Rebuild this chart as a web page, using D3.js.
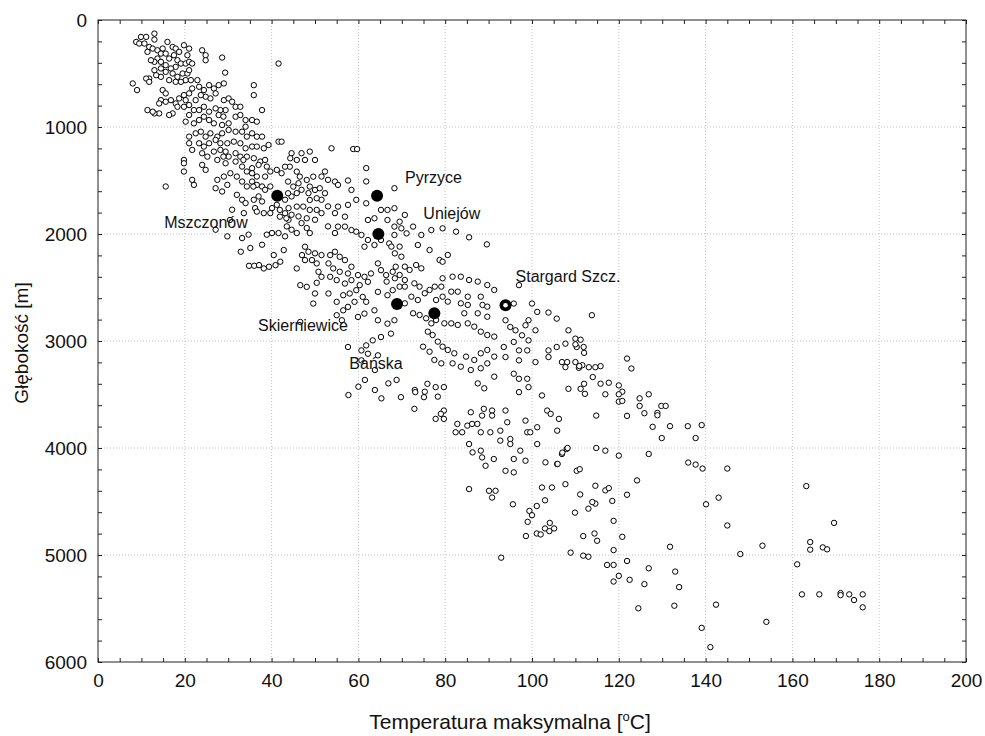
<!DOCTYPE html>
<html lang="pl">
<head>
<meta charset="UTF-8">
<title>Temperatura maksymalna a głębokość</title>
<script src="https://cdn.jsdelivr.net/npm/d3@7"></script>
<style>
  body { margin: 0; background: #fff; }
  svg text { font-family: "Liberation Sans", Arial, sans-serif; fill: #111; }
  .tick line { stroke: #222; }
</style>
</head>
<body>
<script>
// [temperatura °C, głębokość m], grouped by area
const ptsTop = [[8.8,205],[9.9,158],[11.1,158],[13.0,127],[13.0,183],[9.5,220],[10.7,220],[11.8,252],[11.4,298],[12.6,267],
  [13.7,283],[14.9,267],[16.0,205],[17.2,252],[17.9,267],[18.7,298],[19.8,236],[21.0,267],[20.6,329],[14.5,314],
  [13.7,360],[15.6,314],[16.4,360],[17.5,329],[18.3,376],[19.1,407],[20.2,407],[21.0,391],[21.7,407],[17.9,438],
  [16.8,453],[15.6,422],[14.5,391],[13.0,391],[12.2,376],[13.0,469],[14.5,453],[15.6,485],[17.2,500],[18.3,531],
  [19.5,500],[20.6,500],[21.0,469],[21.4,562],[20.2,562],[19.1,578],[17.9,578],[16.4,562],[14.5,531],[13.4,516],
  [11.8,547],[11.1,547],[8.0,593],[9.0,655],[11.8,578],[24.0,283],[24.8,329],[24.8,376],[28.6,351],[41.6,407],[29.3,492]];

const ptsUpper = [[14.9,655],[15.6,686],[14.5,749],[14.1,780],[15.6,764],[16.8,749],[17.9,780],[18.7,733],[19.8,702],[21.0,686],
  [20.2,749],[21.7,640],[22.9,562],[23.3,624],[24.4,655],[25.6,609],[26.7,640],[27.8,609],[29.0,593],[27.1,686],
  [25.9,733],[24.8,717],[23.7,702],[22.5,749],[21.0,795],[19.8,811],[18.3,811],[17.2,873],[16.4,888],[14.1,873],
  [13.0,873],[11.4,842],[12.6,857],[29.0,749],[30.1,733],[30.9,764],[31.7,811],[32.8,811],[35.9,609],[35.9,702],
  [37.8,842],[29.4,842],[28.2,842],[27.1,826],[27.8,888],[25.6,857],[24.4,811],[23.3,842],[22.1,842],[21.0,888],
  [20.2,950],[22.1,966],[23.3,935],[24.4,904],[25.6,935],[26.7,966],[28.6,981],[30.1,966],[31.7,904],[32.8,888],
  [34.0,935],[35.5,935],[36.6,950],[34.0,997],[33.2,1044],[34.3,1090],[35.5,1059],[36.6,1090],[37.8,1090],[31.7,1044],
  [30.1,1028],[28.6,1059],[27.5,1090],[25.9,1059],[24.8,1090],[23.7,1044],[22.5,1059],[21.0,1090],[23.3,1152],[24.4,1183],
  [25.6,1152],[27.1,1121],[28.2,1152],[29.8,1152],[31.3,1137],[32.8,1152],[34.0,1199],[35.5,1183],[36.6,1183],[38.2,1199],
  [39.3,1168],[21.0,1152],[21.7,1214],[24.0,1245],[25.2,1277],[26.7,1230],[28.2,1214],[29.4,1230],[30.1,1277],[31.7,1245],
  [32.8,1277],[34.3,1277],[35.9,1292],[37.4,1323],[38.5,1308],[19.8,1308],[19.8,1339],[19.8,1416],[24.0,1354],[24.8,1401],
  [27.5,1308],[29.4,1339],[31.7,1323],[33.2,1370],[34.3,1416],[35.5,1385],[37.0,1354],[38.9,1370],[39.7,1416],[41.2,1401],
  [42.3,1432],[41.6,1137],[42.3,1137],[44.6,1245],[46.9,1245],[48.8,1230],[44.3,1292],[45.8,1308],[47.7,1308],[50.0,1308],
  [52.3,1416],[53.8,1199],[51.5,1463],[53.0,1494],[54.6,1510],[28.9,903],[28.9,1277],[33.5,1308]];

const ptsMid = [[15.6,1556],[21.7,1494],[22.1,1541],[27.1,1572],[28.6,1603],[29.8,1541],[27.5,1494],[29.0,1463],[30.5,1432],[32.0,1463],
  [33.2,1510],[34.3,1556],[35.5,1510],[36.6,1541],[37.8,1556],[38.5,1587],[39.7,1556],[38.5,1463],[36.6,1463],[35.5,1432],
  [32.0,1634],[33.2,1680],[34.0,1711],[35.9,1680],[37.0,1649],[37.8,1696],[30.9,1773],[33.6,1805],[36.2,1758],[38.2,1805],
  [40.1,1758],[39.7,1805],[41.2,1727],[43.1,1680],[44.6,1649],[45.8,1618],[46.9,1587],[48.5,1618],[43.9,1758],[44.6,1820],
  [46.2,1836],[43.5,1929],[44.6,1960],[45.8,1991],[43.1,2022],[41.6,1991],[40.1,1991],[38.9,2006],[37.8,2100],[35.1,2131],
  [34.7,2006],[33.2,2038],[29.8,2022],[27.1,1960],[43.9,1867],[46.9,1898],[48.1,1944],[48.8,1991],[50.0,1867],[51.5,1680],
  [53.0,1742],[54.6,1805],[51.5,1805],[53.0,1929],[54.6,1991],[30.4,1869],[36.6,1791],[35.8,1557],
  [49.6,1464],[48.1,1495],[46.5,1464],[45.8,1417],[44.2,1371],[43.1,1371],[43.8,1510],[45.0,1557],[46.2,1526],[48.8,1557],
  [50.0,1588],[51.1,1572],[52.3,1619],[50.4,1666],[48.8,1682],[43.8,1619],[41.9,1775],[43.1,1806],[45.8,1744],[47.3,1744],
  [48.8,1775],[50.4,1775],[41.9,1838],[43.4,1853],[48.1,1853],
  [58.8,1206],[59.7,1206],[61.8,1384],[61.8,1509],[57.6,1500],[55.3,1541],[58.4,1588],[59.5,1681],[61.8,1713],[65.2,1775],
  [66.7,1775],[68.3,1759],[68.3,1572],[63.7,1853],[62.2,1869],[66.7,1869],[68.3,1931],[60.7,2009],[59.5,1978],[62.2,2056],
  [63.7,2103],[61.4,2119],[65.2,2056],[67.1,2088],[68.3,2009],[58.4,1963],[56.9,1931],[55.3,1931],[56.9,1838],[55.3,1744],
  [57.6,1728]];

const ptsBand = [[32.9,2166],[34.8,2297],[36.0,2297],[37.1,2291],[38.2,2322],[39.4,2306],[40.5,2197],[40.9,2291],[42.0,2259],[42.8,2150],
  [45.8,2322],[47.0,2197],[47.7,2119],[48.5,2166],[50.0,2181],[51.5,2197],[47.7,2244],[49.3,2244],[50.4,2275],[50.8,2353],
  [53.1,2275],[53.5,2197],[54.6,2166],[55.7,2213],[56.9,2244],[58.4,2306],[54.2,2322],[55.7,2353],[57.6,2369],[59.9,2384],
  [61.4,2400],[62.9,2369],[64.5,2275],[65.2,2338],[66.4,2384],[67.9,2353],[68.6,2306],[62.2,2447],[60.3,2478],[58.4,2431],
  [56.9,2463],[55.0,2431],[53.5,2400],[51.5,2400],[50.4,2456],[46.6,2478],[48.1,2494],[50.0,2556],[49.6,2650],[53.1,2556],
  [55.0,2634],[56.5,2572],[58.0,2556],[59.5,2525],[61.0,2588],[61.8,2634],[64.5,2541],[66.7,2572],[67.9,2525],[59.1,2634],
  [57.6,2681],[56.5,2713],[55.0,2759],[56.2,2806],[46.6,2822],[59.9,2775],[61.4,2744],[63.7,2713],[64.5,2806],[66.7,2838],
  [68.3,2806],[67.5,2931],[65.2,2963],[63.3,2994],[61.8,3041],[60.7,3088],[62.2,3119],[64.5,3134],[57.6,3056],[60.7,3181],
  [70.7,1822],[69.5,1885],[72.6,1931],[74.5,2009],[76.8,1963],[79.4,1947],[82.5,1978],[85.5,2031],[89.6,2097],[69.9,1947],
  [71.1,1994],[67.6,2118],[69.5,2118],[68.4,2181],[69.9,2212],[73.7,2103],[76.4,2150],[78.7,2243],[80.6,2196],[79.4,2259],
  [70.7,2305],[71.8,2336],[73.3,2290],[74.5,2321],[69.5,2383],[68.4,2414],[66.5,2445],[70.7,2430],[72.9,2461],[69.5,2492],
  [70.7,2492],[79.4,2414],[81.7,2399],[83.6,2399],[85.5,2430],[87.5,2445],[89.7,2477],[91.3,2523],[74.1,2492],[75.3,2554],
  [76.4,2523],[77.6,2492],[79.1,2492],[81.4,2539],[82.9,2539],[85.2,2586],[88.2,2586],[83.6,2648],[85.2,2663],[88.6,2663],
  [89.7,2679],[80.6,2632],[79.4,2586],[77.9,2617],[73.7,2617],[72.2,2586],[70.7,2648],[72.6,2741],[74.1,2757],[75.6,2788],
  [76.8,2835],[77.9,2804],[79.8,2835],[81.4,2835],[82.9,2850],[85.2,2835],[86.7,2866],[88.2,2913],[89.7,2944],[91.3,2959],
  [84.4,2741],[87.5,2741],[89.7,2773],[76.0,2913],[77.1,2944],[78.3,3006],[79.4,3053],[80.6,3084],[82.1,3115],[84.8,3146],
  [86.7,3177],[88.2,3115],[89.7,3084],[91.3,3146],[74.9,3053],[76.4,3100],[77.5,3177],[79.1,3209],[81.7,3209],[83.6,3240],
  [85.9,3271],[88.2,3255],[89.7,3209],[91.3,3333],[87.5,3396],[89.0,3442],[73.0,3458],[75.3,3474],[78.3,3520],
  [63.8,3271],[61.5,3364],[63.8,3458],[66.9,3396],[68.8,3364],[65.3,3536],[60.0,3427],[57.7,3505]];

const ptsDeep = [[95.8,2650],[97.0,2478],[100.0,2650],[99.2,2806],[101.2,2728],[103.8,2734],[105.7,2791],[108.4,2900],[110.0,2978],[110.3,3056],
  [107.7,3025],[105.7,3056],[103.8,3088],[103.8,3150],[106.9,3197],[107.7,3244],[110.0,3197],[93.9,2806],[95.0,2869],[96.2,2900],
  [97.7,2947],[99.2,2994],[100.8,2900],[98.5,2853],[93.5,3056],[95.8,3009],[97.0,3088],[98.9,3088],[93.9,3150],[97.0,3181],
  [100.8,3197],[95.8,3306],[97.0,3353],[98.9,3353],[99.2,3431],[97.0,3478],[102.3,3509],[108.4,3447],
  [72.9,3634],[79.7,3650],[79.7,3728],[77.8,3728],[79.0,3681],[82.8,3775],[82.4,3853],[83.9,3853],[85.1,3791],[86.2,3775],
  [87.4,3775],[88.2,3853],[85.9,3666],[88.5,3697],[90.8,3650],[90.8,3697],[88.9,3634],[93.9,3650],[94.3,3759],[90.4,3853],
  [92.7,3838],[92.7,3931],[95.0,3916],[97.3,4025],[95.0,3963],[95.8,4103],[98.5,4119],[98.9,3853],[99.6,3853],[98.5,3744],
  [101.2,3806],[103.5,3650],[104.3,3681],[105.8,3838],[106.9,4056],[108.0,4009],[110.3,4213],[101.2,3963],[103.1,4134],[105.8,4150],
  [102.3,4369],[104.6,4369],[107.7,4338],[85.5,3963],[86.3,4041],[88.2,4025],[88.5,4088],[89.3,4166],[91.2,4103],[93.9,4213],
  [95.8,4228],[85.5,4384],[90.1,4400],[91.6,4400],[90.8,4463],[75.9,3400],[77.8,3431],[79.7,3431],[69.8,3525],[73.1,3478],[75.1,3525]];

const ptsHot = [[112.0,3111],[121.9,3164],[122.9,3257],[111.6,3226],[110.8,3251],[113.1,3245],[114.6,3245],[115.8,3235],[114.0,3337],[115.8,3399],
  [117.7,3390],[120.0,3415],[120.8,3474],[120.0,3498],[120.0,3567],[120.8,3560],[121.9,3700],[116.9,3498],[124.8,3536],[124.8,3607],
  [126.9,3498],[125.9,3675],[128.9,3672],[128.9,3694],[129.8,3607],[130.8,3607],[127.8,3802],[129.9,3907],[131.8,3796],[135.9,3796],
  [137.7,3907],[136.0,4136],[137.7,4155],[126.9,4056],[120.0,4071],[116.9,4025],[114.8,4000],[111.0,4198],[108.2,4000],[107.0,4043],
  [105.9,4149],[124.2,4303],[121.9,4437],[118.5,4495],[116.9,4396],[117.7,4375],[114.6,4353],[114.6,4520],[113.0,4567],[113.9,4505],
  [111.1,4434],[109.9,4604],[118.8,4681],[120.8,4830],[111.8,4823],[114.4,4799],[115.0,4867],[108.9,4978],[111.8,5006],[113.0,5016],
  [118.8,4954],[117.3,5093],[118.8,5093],[121.9,5056],[120.0,5195],[118.8,5248],[122.5,5232],[125.9,5272],[126.9,5124],[131.8,4923],
  [133.0,5155],[133.9,5300],[95.6,4526],[92.9,5025],[99.0,4690],[99.4,4588],[100.0,4628],[101.1,4542],[103.0,4489],[104.1,4700],
  [103.0,4752],[105.1,4752],[104.0,4777],[101.1,4799],[98.6,4823],[102.0,4808],[113.8,2759],[114.8,3697],[111.2,2988],[111.9,3056],
  [110.0,3031],[110.9,3234],[108.1,3197],[112.0,3400],[111.2,3447],[112.2,3494],[106.2,3728]];

const ptsFar = [[139.1,3786],[139.3,4192],[145.0,4192],[140.1,4526],[143.0,4464],[145.0,4724],[148.0,4991],[153.1,4913],[163.2,4356],[169.6,4700],
  [164.1,4879],[164.1,4950],[167.0,4929],[168.0,4947],[161.1,5087],[162.2,5368],[166.2,5368],[171.1,5356],[171.1,5375],[173.1,5368],
  [174.2,5421],[176.2,5368],[176.2,5489],[142.4,5464],[139.1,5681],[141.1,5861],[154.0,5625],[124.5,5498],[132.8,5474]];

const siteNames = ["Pyrzyce", "Uniejów", "Mszczonów", "Stargard Szcz.", "Skierniewice", "Bańska"];
const siteTemp = [64.3, 64.6, 41.3, 93.9, 68.9, 77.5];
const siteDepth = [1642, 2000, 1642, 2666, 2654, 2741];

const xTicks = [0, 20, 40, 60, 80, 100, 120, 140, 160, 180, 200];
const yTicks = [0, 1000, 2000, 3000, 4000, 5000, 6000];

// label position relative to its dot, in px
const labelOffset = [[28, -13], [45, -15], [-113, 32], [10, -23], [-139, 27], [-85, 56]];
const ringSite = "Stargard Szcz.";

const W = 985, H = 736;
const mLeft = 98, mRight = 966, mTop = 20, mBottom = 662;

const points = [].concat(ptsTop, ptsUpper, ptsMid, ptsBand, ptsDeep, ptsHot, ptsFar);

const x = d3.scaleLinear().domain([0, 200]).range([mLeft, mRight]);
const y = d3.scaleLinear().domain([0, 6000]).range([mTop, mBottom]);

const svg = d3.select("body").append("svg")
  .attr("width", W).attr("height", H);

svg.append("rect").attr("width", W).attr("height", H).attr("fill", "#fff");

// grid
const grid = svg.append("g").attr("stroke", "#c4c4c4").attr("stroke-dasharray", "1,2");
grid.selectAll(".gx").data(xTicks.slice(1, -1)).enter().append("line")
  .attr("x1", d => x(d)).attr("x2", d => x(d))
  .attr("y1", mTop).attr("y2", mBottom);
grid.selectAll(".gy").data(yTicks.slice(1, -1)).enter().append("line")
  .attr("y1", d => y(d)).attr("y2", d => y(d))
  .attr("x1", mLeft).attr("x2", mRight);

// axes, ticks pointing inside the frame
const xMinor = d3.range(0, 201, 5);
const yMinor = d3.range(0, 6001, 200);

const gx = svg.append("g").attr("transform", `translate(0,${mBottom})`)
  .call(d3.axisBottom(x).tickValues(xMinor).tickSize(-4).tickPadding(12)
    .tickFormat(d => xTicks.includes(d) ? d : ""));
const gy = svg.append("g").attr("transform", `translate(${mLeft},0)`)
  .call(d3.axisLeft(y).tickValues(yMinor).tickSize(-4).tickPadding(11)
    .tickFormat(d => yTicks.includes(d) ? d : ""));
const gt = svg.append("g").attr("transform", `translate(0,${mTop})`)
  .call(d3.axisTop(x).tickValues(xMinor).tickSize(-4).tickFormat(""));
const gr = svg.append("g").attr("transform", `translate(${mRight},0)`)
  .call(d3.axisRight(y).tickValues(yMinor).tickSize(-4).tickFormat(""));

[gx, gy, gt, gr].forEach(g => {
  g.select(".domain").remove();
  g.selectAll("text").style("font-size", "19px").attr("fill", "#111");
});

svg.append("rect")
  .attr("x", mLeft).attr("y", mTop)
  .attr("width", mRight - mLeft).attr("height", mBottom - mTop)
  .attr("fill", "none").attr("stroke", "#222").attr("stroke-width", 1);

// scatter
svg.append("g").selectAll("circle").data(points).enter().append("circle")
  .attr("cx", d => x(d[0]))
  .attr("cy", d => y(d[1]))
  .attr("r", 2.7)
  .attr("fill", "#fff")
  .attr("stroke", "#000")
  .attr("stroke-width", 1);

// highlighted sites
const sites = siteNames.map((n, i) => ({ name: n, t: siteTemp[i], d: siteDepth[i], off: labelOffset[i] }));

svg.append("g").selectAll("circle").data(sites).enter().append("circle")
  .attr("cx", d => x(d.t)).attr("cy", d => y(d.d))
  .attr("r", 6).attr("fill", "#000");

svg.append("g").selectAll("circle").data(sites.filter(s => s.name === ringSite)).enter().append("circle")
  .attr("cx", d => x(d.t)).attr("cy", d => y(d.d))
  .attr("r", 2.3).attr("fill", "#fff");

svg.append("g").selectAll("text").data(sites).enter().append("text")
  .attr("x", d => x(d.t) + d.off[0])
  .attr("y", d => y(d.d) + d.off[1])
  .style("font-size", "16px")
  .text(d => d.name);

// axis titles
const xt = svg.append("text")
  .attr("x", 510).attr("y", 729)
  .attr("text-anchor", "middle")
  .style("font-size", "21px");
xt.append("tspan").text("Temperatura maksymalna [");
xt.append("tspan").attr("dy", -8).style("font-size", "13px").text("o");
xt.append("tspan").attr("dy", 8).text("C]");

svg.append("text")
  .attr("transform", "translate(28,343) rotate(-90)")
  .attr("text-anchor", "middle")
  .style("font-size", "19px")
  .text("Głębokość [m]");
</script>
</body>
</html>
